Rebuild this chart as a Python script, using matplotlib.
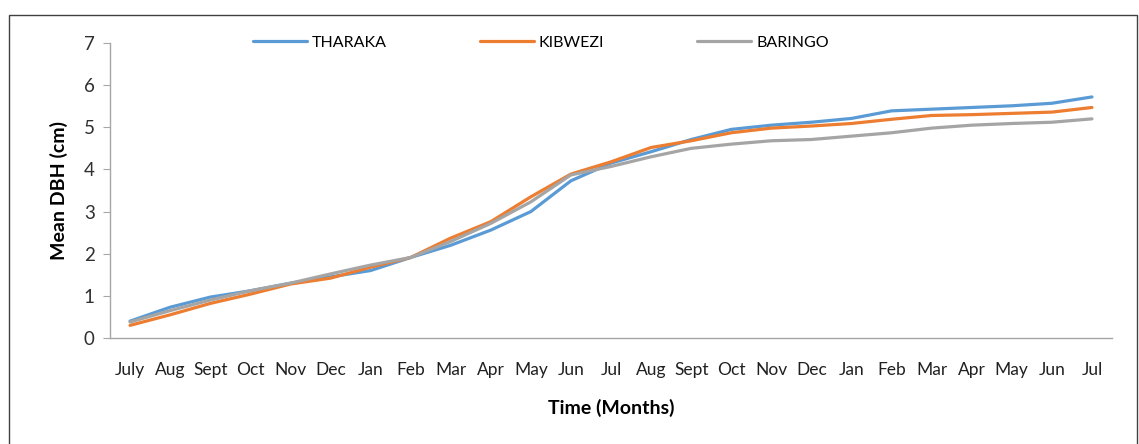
import numpy as np
import matplotlib
matplotlib.use("Agg")
import matplotlib.pyplot as plt
from matplotlib.patches import Rectangle

months = ['July', 'Aug', 'Sept', 'Oct', 'Nov', 'Dec', 'Jan', 'Feb', 'Mar', 'Apr', 'May', 'Jun',
          'Jul', 'Aug', 'Sept', 'Oct', 'Nov', 'Dec', 'Jan', 'Feb', 'Mar', 'Apr', 'May', 'Jun', 'Jul']

tharaka = [0.40, 0.73, 0.97, 1.12, 1.30, 1.45, 1.60, 1.91, 2.20, 2.56, 3.00, 3.73,
           4.15, 4.42, 4.71, 4.95, 5.05, 5.12, 5.21, 5.39, 5.43, 5.47, 5.51, 5.57, 5.72]
kibwezi = [0.30, 0.55, 0.82, 1.04, 1.28, 1.42, 1.68, 1.91, 2.37, 2.76, 3.35, 3.89,
           4.18, 4.52, 4.68, 4.87, 4.98, 5.03, 5.09, 5.19, 5.28, 5.30, 5.33, 5.36, 5.47]
baringo = [0.38, 0.65, 0.90, 1.12, 1.30, 1.52, 1.73, 1.91, 2.29, 2.72, 3.23, 3.87,
           4.07, 4.30, 4.50, 4.60, 4.68, 4.71, 4.79, 4.87, 4.98, 5.05, 5.09, 5.12, 5.20]

plt.rcParams['font.family'] = ['Lato', 'DejaVu Sans']

fig = plt.figure(figsize=(11.39, 4.44), dpi=100)
ax = fig.add_axes([110 / 1139, 1 - 338 / 444, (1112 - 110) / 1139, (338 - 43) / 444])

x = np.arange(len(months))
ax.plot(x, tharaka, color='#5B9BD5', linewidth=2.3, label='THARAKA', solid_capstyle='round')
ax.plot(x, kibwezi, color='#ED7D31', linewidth=2.3, label='KIBWEZI', solid_capstyle='round')
ax.plot(x, baringo, color='#A5A5A5', linewidth=2.3, label='BARINGO', solid_capstyle='round')

ax.set_xlim(-0.5, len(months) - 0.5)
ax.set_ylim(0, 7)
ax.set_yticks(range(0, 8))
ax.set_xticks(x)
ax.set_xticklabels(months)
ax.tick_params(axis='x', length=0, pad=17, labelsize=12.5, labelcolor='#202020')
ax.tick_params(axis='y', length=5, color='#A6A6A6', pad=6, labelsize=13.5, labelcolor='#303030')

for s in ['top', 'right']:
    ax.spines[s].set_visible(False)
for s in ['left', 'bottom']:
    ax.spines[s].set_color('#A6A6A6')
    ax.spines[s].set_linewidth(1)

ax.set_xlabel('Time (Months)', fontsize=14, fontweight='bold', labelpad=15)
ax.set_ylabel('Mean DBH (cm)', fontsize=14, fontweight='bold', labelpad=11)

fig.legend(loc='center left', bbox_to_anchor=(253 / 1139, 1 - 43 / 444), ncol=3,
           frameon=False, fontsize=11.5, handlelength=3.4, handletextpad=0.3,
           columnspacing=5.8, borderpad=0, borderaxespad=0)

fig.patches.append(Rectangle((9 / 1139, -0.05), (1137 - 9) / 1139, 1 - 15 / 444 + 0.05,
                             transform=fig.transFigure, fill=False,
                             edgecolor='#404040', linewidth=1))

fig.savefig('out.png', dpi=100)
